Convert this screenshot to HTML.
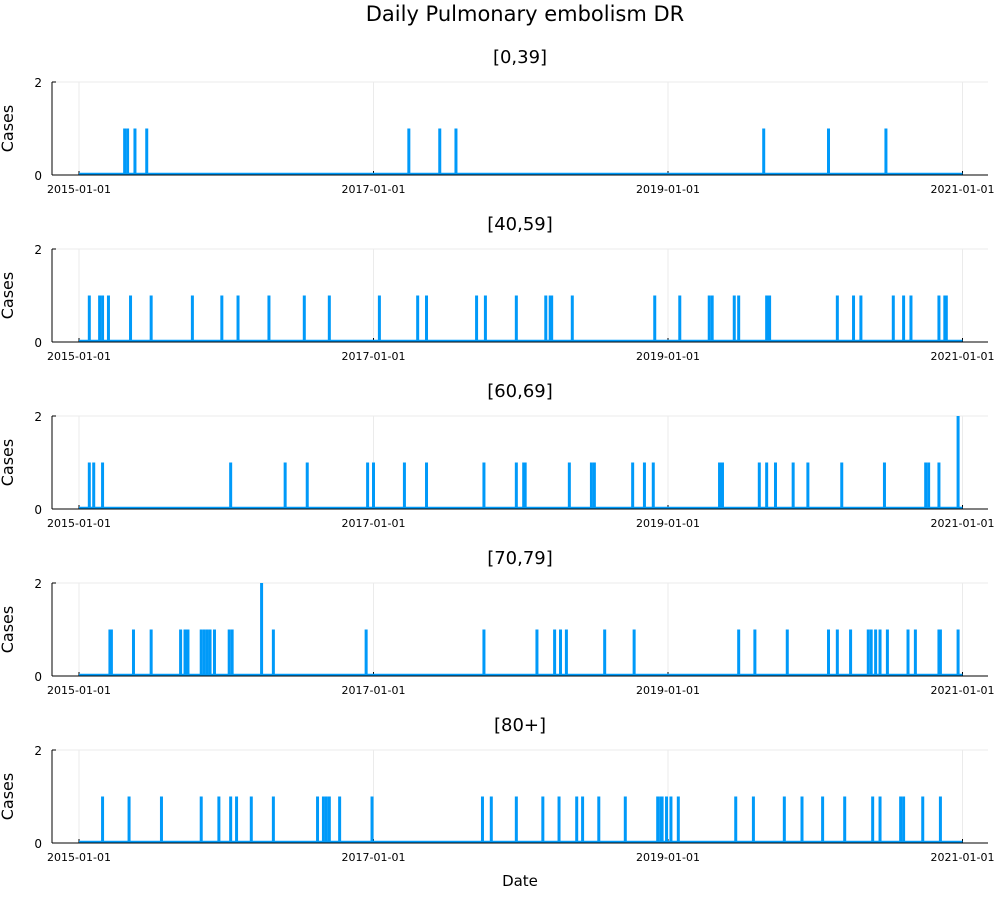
<!DOCTYPE html>
<html><head><meta charset="utf-8"><style>
body{margin:0;background:#fff;}
svg text{font-family:"DejaVu Sans","Liberation Sans",sans-serif;}
</style></head><body>
<svg id="c" width="1000" height="900" xmlns="http://www.w3.org/2000/svg">
<text x="525" y="21" text-anchor="middle" font-size="21">Daily Pulmonary embolism DR</text>
<text x="520" y="886" text-anchor="middle" font-size="15">Date</text>
</svg>
<script>
// spike times in years since 2015-01-01, value 1 unless listed in the value maps
const groups = ["[0,39]","[40,59]","[60,69]","[70,79]","[80+]"];
const s0 = [0.31,0.33,0.38,0.46,2.24,2.45,2.56,4.65,5.09,5.48];
const s1 = [0.07,0.14,0.16,0.20,0.35,0.49,0.77,0.97,1.08,1.29,1.53,1.70,2.04,2.30,2.36,2.70,2.76,2.97,3.17,3.20,3.21,3.35,3.91,4.08,4.28,4.30,4.45,4.48,4.67,4.68,4.69,5.15,5.26,5.31,5.53,5.60,5.65,5.84,5.88,5.89];
const s2 = [0.07,0.10,0.16,1.03,1.40,1.55,1.96,2.00,2.21,2.36,2.75,2.97,3.02,3.03,3.33,3.48,3.50,3.76,3.84,3.90,4.35,4.37,4.62,4.67,4.73,4.85,4.95,5.18,5.47,5.75,5.77,5.84,5.97];
const v2 = {"5.97":2};
const s3 = [0.21,0.22,0.37,0.49,0.69,0.72,0.74,0.83,0.85,0.87,0.89,0.92,1.02,1.04,1.24,1.32,1.95,2.75,3.11,3.23,3.27,3.31,3.57,3.77,4.48,4.59,4.81,5.09,5.15,5.24,5.36,5.38,5.41,5.44,5.49,5.63,5.68,5.84,5.85,5.97];
const v3 = {"1.24":2};
const s4 = [0.16,0.34,0.56,0.83,0.95,1.03,1.07,1.17,1.32,1.62,1.66,1.68,1.70,1.77,1.99,2.74,2.80,2.97,3.15,3.26,3.38,3.42,3.53,3.71,3.93,3.95,3.96,3.99,4.02,4.07,4.46,4.58,4.79,4.91,5.05,5.20,5.39,5.44,5.58,5.60,5.73,5.85];
const series = [s0,s1,s2,s3,s4];
const vals = [{}, {}, v2, v3, {}];
const xTicks = [0,2,4,6];
const xTickLabels = ["2015-01-01","2017-01-01","2019-01-01","2021-01-01"];
const yTicks = [0,2];

const NS="http://www.w3.org/2000/svg";
const svg=document.getElementById('c');
function mk(t,a,p){const e=document.createElementNS(NS,t);for(const k in a)e.setAttribute(k,a[k]);(p||svg).appendChild(e);return e;}
const L=52,R=988;
const xs=t=>79+t*147.25;
for(let i=0;i<5;i++){
  const y0=175+i*167, ys=v=>y0-v*46.5;
  const g=mk('g',{});
  
  
  const tt=mk('text',{x:520,y:y0-112,'text-anchor':'middle','font-size':18},g);
  tt.textContent=groups[i];
  
  
  xTicks.forEach((t,j)=>{
    const gl=mk('line',{x1:xs(t),x2:xs(t),y1:ys(2),y2:y0,stroke:'#ebebeb','stroke-width':1},g);
    
    
    mk('line',{x1:xs(t),x2:xs(t),y1:y0,y2:y0-4,stroke:'#000','stroke-width':1},g);
    const lb=mk('text',{x:xs(t),y:y0+18,'text-anchor':'middle','font-size':11},g);
    lb.textContent=xTickLabels[j];
    
    
  });
  yTicks.forEach(v=>{
    if(v>0){const gl=mk('line',{x1:L,x2:R,y1:ys(v),y2:ys(v),stroke:'#ebebeb','stroke-width':1},g);
    
    }
    mk('line',{x1:L,x2:L+4,y1:ys(v),y2:ys(v),stroke:'#000','stroke-width':1},g);
    const lb=mk('text',{x:L-10,y:ys(v)+5,'text-anchor':'end','font-size':12},g);
    lb.textContent=v;
    
    
  });
  const yl=mk('text',{x:13,y:(y0+ys(2))/2,'text-anchor':'middle','font-size':16,transform:`rotate(-90 13 ${(y0+ys(2))/2})`},g);
  yl.textContent='Cases';
  
  
  const base=mk('line',{x1:xs(0),x2:xs(6),y1:y0-1,y2:y0-1,stroke:'#009af9','stroke-width':2.5},g);
  
  
  series[i].forEach(t=>{
    const v=vals[i][t.toFixed(2)]||1;
    const p=mk('rect',{x:xs(t)-1.5,y:ys(v),width:3,height:y0-ys(v),fill:'#009af9'},g);
    
    
  });
  mk('line',{x1:L,x2:L,y1:ys(2),y2:y0,stroke:'#000','stroke-width':1},g);
  mk('line',{x1:L,x2:R,y1:y0,y2:y0,stroke:'#000','stroke-width':1},g);
}
</script>
</body></html>
